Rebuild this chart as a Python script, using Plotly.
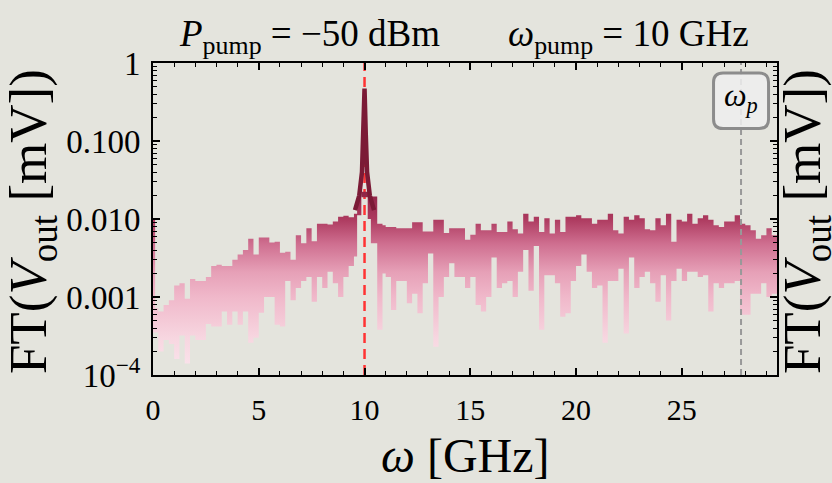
import plotly.graph_objects as go

# ---------------- data ----------------
freq_ghz = [
    0, 0.1, 0.25, 0.5, 0.75, 1.0, 1.25, 1.5,
    1.75, 2.0, 2.25, 2.5, 2.75, 3.0, 3.25, 3.5,
    3.75, 4.0, 4.25, 4.5, 4.75, 5.0, 5.25, 5.5,
    5.75, 6.0, 6.25, 6.5, 6.75, 7.0, 7.25, 7.5,
    7.75, 8.0, 8.25, 8.5, 8.75, 9.0, 9.25, 9.5,
    9.65, 9.85, 10.15, 10.3, 10.6, 10.85, 11.0, 11.25,
    11.5, 11.75, 12.0, 12.25, 12.5, 12.75, 13.0, 13.25,
    13.5, 13.75, 14.0, 14.25, 14.5, 14.75, 15.0, 15.25,
    15.5, 15.75, 16.0, 16.25, 16.5, 16.75, 17.0, 17.25,
    17.5, 17.75, 18.0, 18.25, 18.5, 18.75, 19.0, 19.25,
    19.5, 19.75, 20.0, 20.25, 20.5, 20.75, 21.0, 21.25,
    21.5, 21.75, 22.0, 22.25, 22.5, 22.75, 23.0, 23.25,
    23.5, 23.75, 24.0, 24.25, 24.5, 24.75, 25.0, 25.25,
    25.5, 25.75, 26.0, 26.25, 26.5, 26.75, 27.0, 27.25,
    27.5, 27.75, 28.0, 28.25, 28.5, 28.75, 29.0, 29.25,
    29.5,
]

# upper envelope of the spectrum [mV]
ft_upper = [
    0.010, 0.00072, 0.00065, 0.00079, 0.00091, 0.0014, 0.0015, 0.00095,
    0.0017, 0.0016, 0.0016, 0.0018, 0.0025, 0.0026, 0.0025, 0.0025,
    0.0030, 0.0035, 0.0040, 0.0056, 0.0035, 0.0058, 0.0058, 0.0050,
    0.0051, 0.0037, 0.0038, 0.0030, 0.0062, 0.0049, 0.0076, 0.0052,
    0.0087, 0.0087, 0.0085, 0.0093, 0.0107, 0.0110, 0.0105, 0.0117,
    0.0190, 0.0224, 0.0224, 0.0195, 0.0087, 0.0083, 0.0079, 0.0079,
    0.0076, 0.0076, 0.0076, 0.0091, 0.0091, 0.0069, 0.0069, 0.0098,
    0.0098, 0.0066, 0.0076, 0.0076, 0.0076, 0.0054, 0.0063, 0.0087,
    0.0072, 0.0072, 0.0087, 0.0068, 0.0068, 0.0093, 0.0074, 0.0065,
    0.0117, 0.0093, 0.0107, 0.0068, 0.0102, 0.0065, 0.0098, 0.0068,
    0.0107, 0.0107, 0.0112, 0.0102, 0.0102, 0.0087, 0.0098, 0.0098,
    0.0117, 0.0072, 0.0065, 0.0107, 0.0098, 0.0112, 0.0102, 0.0074,
    0.0072, 0.0102, 0.0083, 0.0117, 0.0051, 0.0098, 0.0093, 0.0117,
    0.0087, 0.0102, 0.0112, 0.0098, 0.0083, 0.0079, 0.0093, 0.0093,
    0.0112, 0.0087, 0.0083, 0.0072, 0.0056, 0.0062, 0.0076, 0.0062,
    0.0098,
]

# lower envelope of the spectrum [mV]
ft_lower = [
    0.00035, 0.00035, 0.00020, 0.00028, 0.00025, 0.00016, 0.00032, 0.00014,
    0.00032, 0.00028, 0.00028, 0.00045, 0.00042, 0.00042, 0.00065, 0.00044,
    0.00065, 0.00044, 0.00065, 0.00026, 0.00030, 0.00063, 0.0010, 0.0010,
    0.00044, 0.00042, 0.0016, 0.00091, 0.0013, 0.0016, 0.0018, 0.00087,
    0.0018, 0.0013, 0.0021, 0.0015, 0.0010, 0.0018, 0.0025, 0.0033,
    0.0112, 0.0190, 0.0100, 0.0049, 0.00038, 0.0020, 0.0018, 0.00068,
    0.0016, 0.0016, 0.00083, 0.0011, 0.00062, 0.0015, 0.0036, 0.00023,
    0.0010, 0.0018, 0.0027, 0.0018, 0.0018, 0.0013, 0.0018, 0.00079,
    0.00065, 0.0010, 0.0032, 0.0013, 0.0015, 0.0016, 0.0010, 0.0021,
    0.0040, 0.0012, 0.0045, 0.00038, 0.0019, 0.0019, 0.0015, 0.00056,
    0.00062, 0.0016, 0.0025, 0.0035, 0.0021, 0.0013, 0.0014, 0.00026,
    0.0016, 0.0016, 0.0023, 0.00034, 0.0032, 0.0013, 0.0018, 0.0021,
    0.0015, 0.00087, 0.0019, 0.00050, 0.0016, 0.0023, 0.0016, 0.0021,
    0.0021, 0.0018, 0.0019, 0.00065, 0.0015, 0.0013, 0.0015, 0.0015,
    0.0016, 0.00059, 0.00059, 0.0011, 0.0011, 0.0015, 0.0010, 0.0011,
    0.0011,
]

# the pump peak
peak_freq = [9.55, 9.75, 9.88, 9.94, 10.0, 10.06, 10.12, 10.25, 10.45]
peak_amp = [0.013, 0.02, 0.04, 0.12, 0.47, 0.12, 0.04, 0.02, 0.013]

pump_freq = 10.0
plasma_freq = 27.8

x_ticks = [0, 5, 10, 15, 20, 25]
y_ticks = [1e-4, 1e-3, 1e-2, 1e-1, 1]
y_ticktext = ["10<sup>\u22124</sup>", "0.001", "0.010", "0.100", "1"]
y_minor = [m * 10.0 ** e for e in range(-4, 0) for m in range(2, 10)]

# ---------------- figure ----------------
BG = "#e4e4dd"
FONT = "Liberation Serif"

fig = go.Figure()
fig.add_trace(go.Scatter(
    x=freq_ghz, y=ft_lower, mode="lines", line=dict(width=0, shape="hv"),
    hoverinfo="skip", showlegend=False))
fig.add_trace(go.Scatter(
    x=freq_ghz, y=ft_upper, mode="lines", line=dict(width=0, shape="hv"),
    fill="tonexty",
    fillgradient=dict(
        type="vertical", start=1e-4, stop=1,
        colorscale=[[0, "#fbe6ee"], [0.12, "#f7d6e0"], [0.25, "#f0b8ca"],
                    [0.33, "#e6a0b7"], [0.42, "#cf6f90"], [0.5, "#ad3a5f"],
                    [0.58, "#902548"], [0.7, "#801c3a"], [1, "#741631"]]),
    hoverinfo="skip", showlegend=False))
fig.add_trace(go.Scatter(
    x=peak_freq, y=peak_amp, mode="lines",
    line=dict(color="#7b1a36", width=4.5), hoverinfo="skip", showlegend=False))

axis_common = dict(
    showline=True, linecolor="black", linewidth=2, mirror="ticks",
    ticks="inside", ticklen=7, tickwidth=1.5, tickcolor="black",
    showgrid=False, zeroline=False,
)

fig.update_xaxes(range=[0, 29.5], tickvals=x_ticks, ticklabelstandoff=7,
                 tickfont=dict(family=FONT, size=30, color="black"),
                 minor=dict(dtick=1, ticks="inside", ticklen=4, tickwidth=1.2,
                            tickcolor="black", showgrid=False),
                 **axis_common)
fig.update_yaxes(type="log", range=[-4, 0], tickvals=y_ticks, ticktext=y_ticktext,
                 ticklabelstandoff=4,
                 tickfont=dict(family=FONT, size=33, color="black"),
                 minor=dict(tickvals=y_minor, ticks="inside", ticklen=4, tickwidth=1.2,
                            tickcolor="black", showgrid=False),
                 **axis_common)

shapes = [
    dict(type="line", xref="x", yref="paper", x0=pump_freq, x1=pump_freq, y0=0, y1=1,
         line=dict(color="#ff3333", width=2.5, dash="10px,6px"), layer="below"),
    dict(type="line", xref="x", yref="paper", x0=plasma_freq, x1=plasma_freq, y0=0, y1=1,
         line=dict(color="#999999", width=2, dash="6px,4px"), layer="above"),
]
# rounded label box for omega_p
bx0, bx1, by0, by1 = 26.5, 29.1, 0.79, 0.968
rx, ry = 0.45, 0.03
path = (f"M {bx0+rx},{by0} L {bx1-rx},{by0} Q {bx1},{by0} {bx1},{by0+ry} "
        f"L {bx1},{by1-ry} Q {bx1},{by1} {bx1-rx},{by1} L {bx0+rx},{by1} "
        f"Q {bx0},{by1} {bx0},{by1-ry} L {bx0},{by0+ry} Q {bx0},{by0} {bx0+rx},{by0} Z")
shapes.append(dict(type="path", xref="x", yref="paper", path=path,
                   fillcolor="rgba(238,238,238,0.85)",
                   line=dict(color="#8c8c8c", width=3), layer="above"))
fig.update_layout(shapes=shapes)

ann = [
    dict(text="<i>\u03c9</i><sub><i>p</i></sub>", xref="x", yref="paper",
         x=(bx0 + bx1) / 2, y=(by0 + by1) / 2 + 0.01, showarrow=False,
         xanchor="center", yanchor="middle",
         font=dict(family=FONT, size=32, color="black")),
    dict(text="<i>P</i><sub>pump</sub> = \u221250 dBm", xref="paper", yref="paper",
         x=(309 - 153) / 624, y=(375 - 36) / 312, showarrow=False,
         xanchor="center", yanchor="middle",
         font=dict(family=FONT, size=37, color="black")),
    dict(text="<i>\u03c9</i><sub>pump</sub> = 10 GHz", xref="paper", yref="paper",
         x=(628 - 153) / 624, y=(375 - 36) / 312, showarrow=False,
         xanchor="center", yanchor="middle",
         font=dict(family=FONT, size=37, color="black")),
    dict(text="<i>\u03c9</i> [GHz]", xref="paper", yref="paper",
         x=(465 - 153) / 624, y=(375 - 455) / 312, showarrow=False,
         xanchor="center", yanchor="middle",
         font=dict(family=FONT, size=48, color="black")),
    dict(text="FT(<i>V</i><sub>out</sub> [mV])", xref="paper", yref="paper",
         x=(32 - 153) / 624, y=0.49, showarrow=False, textangle=-90,
         xanchor="center", yanchor="middle",
         font=dict(family=FONT, size=53, color="black")),
    dict(text="FT(<i>V</i><sub>out</sub> [mV])", xref="paper", yref="paper",
         x=(806 - 153) / 624, y=0.49, showarrow=False, textangle=-90,
         xanchor="center", yanchor="middle",
         font=dict(family=FONT, size=53, color="black")),
]
fig.update_layout(annotations=ann)

fig.update_layout(
    width=832, height=483,
    margin=dict(l=153, r=55, t=63, b=108),
    paper_bgcolor=BG, plot_bgcolor=BG,
    showlegend=False,
)

fig.write_html("out.html")
